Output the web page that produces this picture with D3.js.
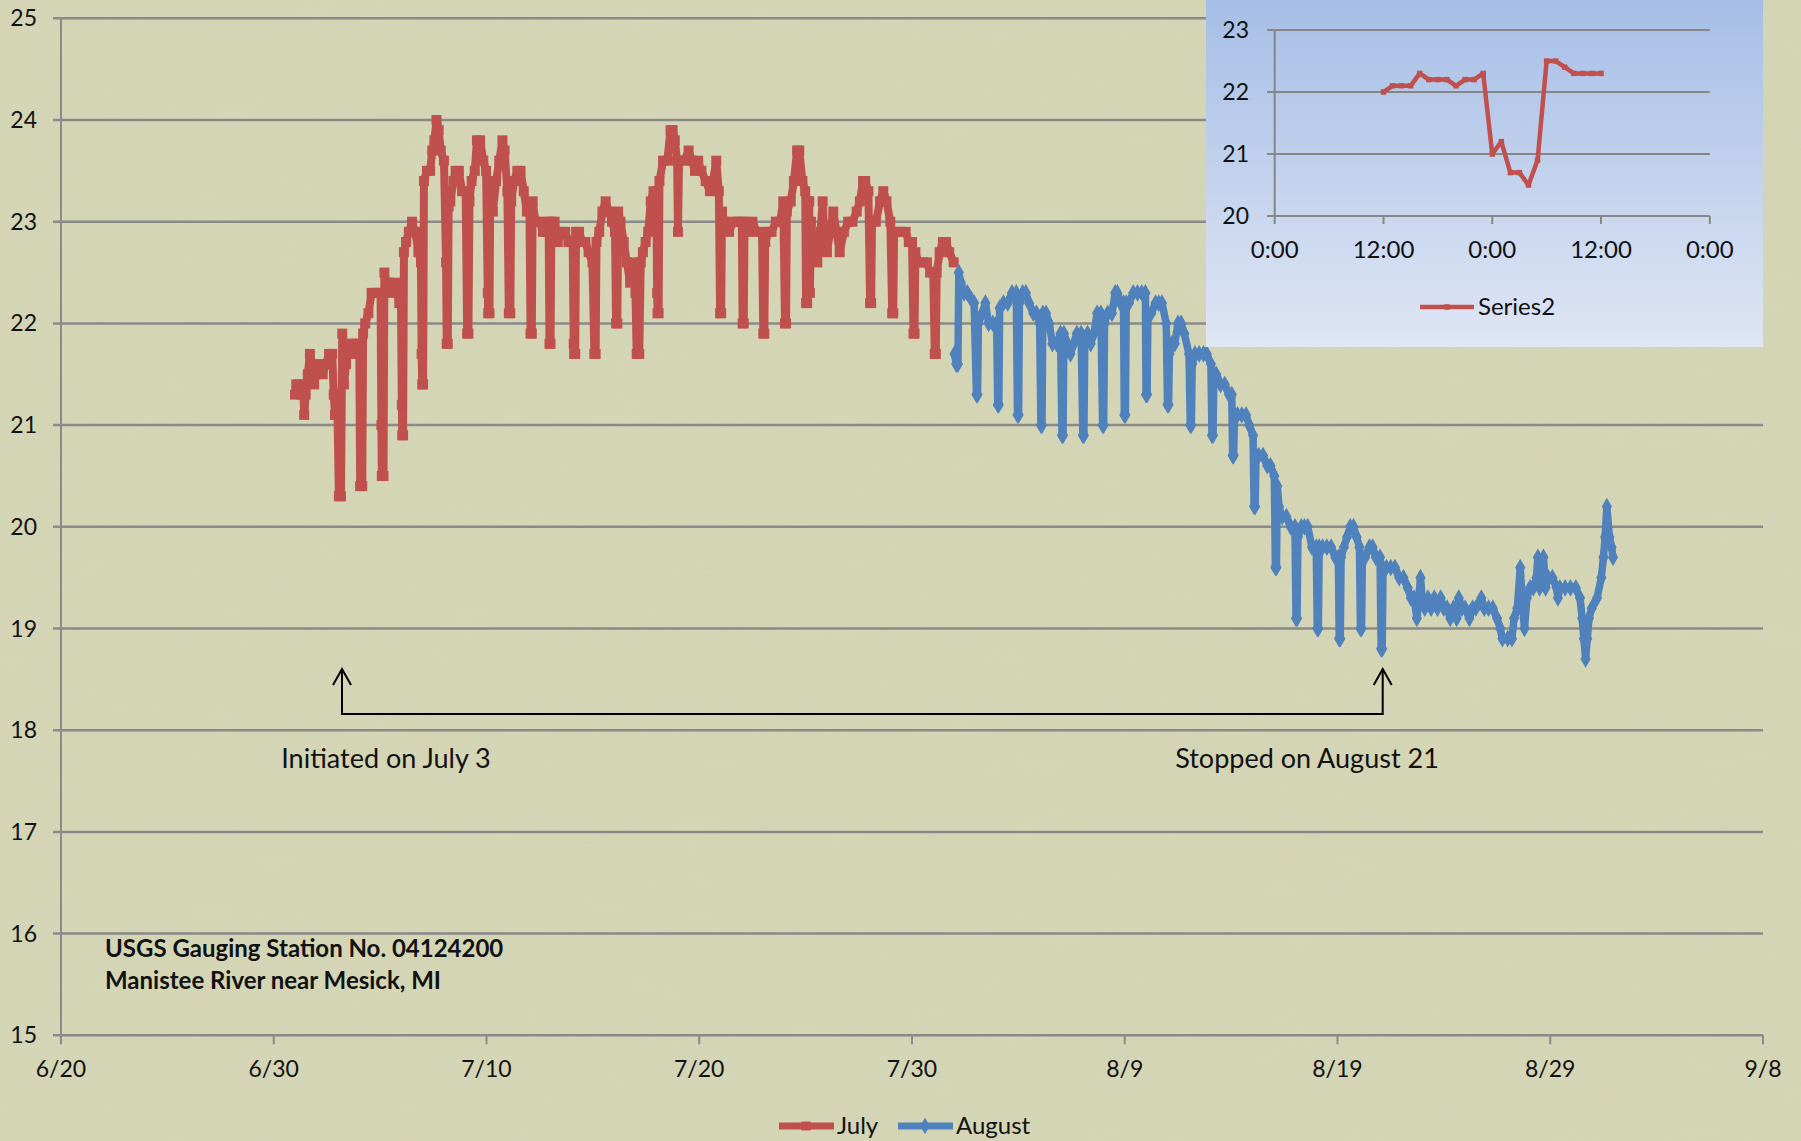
<!DOCTYPE html>
<html>
<head>
<meta charset="utf-8">
<script src="https://cdn.jsdelivr.net/npm/d3@7"></script>
<style>
  html, body { margin: 0; padding: 0; background: #d5d6b6; }
  svg { display: block; font-family: Lato, "Open Sans", sans-serif; }
</style>
</head>
<body>
<div id="chart"></div>
<script>
// water temperature readings, [day of month, deg C]
var julyReadings = [
  [1.00,21.3],[1.06,21.4],[1.18,21.4],[1.30,21.3],[1.38,21.4],[1.43,21.1],[1.50,21.3],[1.60,21.5],[1.70,21.7],[1.80,21.6],[1.90,21.4],
  [2.00,21.5],[2.15,21.6],[2.30,21.5],[2.45,21.6],[2.60,21.7],[2.75,21.7],[2.82,21.3],[2.88,21.1],[2.98,21.3],
  [3.06,20.3],[3.16,20.3],[3.22,21.9],[3.30,21.4],[3.40,21.6],[3.50,21.8],[3.65,21.8],[3.80,21.7],[3.92,21.8],[4.02,21.8],
  [4.06,20.4],[4.16,20.4],[4.20,21.9],[4.30,22.0],[4.45,22.1],[4.60,22.3],[4.75,22.3],[4.90,22.3],[5.02,22.3],
  [5.06,21.0],[5.08,20.5],[5.16,20.5],[5.20,22.5],[5.30,22.4],[5.45,22.4],[5.60,22.3],[5.75,22.4],[5.90,22.2],[5.98,22.2],
  [6.02,21.2],[6.04,20.9],[6.08,20.9],[6.12,22.7],[6.22,22.8],[6.35,22.9],[6.50,23.0],[6.65,22.9],[6.80,22.7],[6.92,22.6],
  [6.95,21.7],[6.98,21.4],[7.02,21.4],[7.06,23.4],[7.20,23.5],[7.35,23.5],[7.45,23.7],[7.55,23.8],[7.65,24.0],[7.75,23.9],[7.85,23.7],[8.00,23.6],
  [8.10,22.6],[8.13,21.8],[8.18,21.8],[8.22,23.15],[8.30,23.2],[8.45,23.4],[8.55,23.5],[8.70,23.5],[8.85,23.3],[9.02,23.3],
  [9.09,21.9],[9.15,21.9],[9.20,23.2],[9.30,23.4],[9.45,23.5],[9.55,23.8],[9.70,23.8],[9.85,23.6],[9.98,23.5],
  [10.06,22.3],[10.08,22.1],[10.14,22.1],[10.18,23.4],[10.30,23.1],[10.45,23.4],[10.60,23.6],[10.75,23.8],[10.85,23.7],[10.98,23.3],
  [11.05,22.1],[11.12,22.1],[11.16,23.2],[11.30,23.4],[11.45,23.5],[11.60,23.5],[11.75,23.3],[11.90,23.1],[12.02,23.1],
  [12.07,21.9],[12.13,21.9],[12.17,23.2],[12.30,23.0],[12.50,23.0],[12.65,22.9],[12.80,22.9],[12.92,23.0],
  [12.96,21.8],[13.01,21.8],[13.05,23.0],[13.20,23.0],[13.35,22.8],[13.50,22.9],[13.70,22.9],[13.85,22.8],[14.05,22.8],
  [14.10,21.8],[14.12,21.7],[14.17,21.7],[14.21,22.9],[14.35,22.9],[14.50,22.8],[14.65,22.8],[14.80,22.7],[14.98,22.6],
  [15.07,21.7],[15.13,21.7],[15.17,22.8],[15.30,22.9],[15.45,23.1],[15.60,23.2],[15.75,23.1],[15.90,23.0],[16.04,22.9],
  [16.09,22.0],[16.15,22.0],[16.19,23.1],[16.30,23.0],[16.45,22.8],[16.60,22.6],[16.75,22.4],[16.90,22.6],[17.00,22.3],
  [17.06,21.7],[17.18,21.7],[17.25,22.6],[17.35,22.7],[17.48,22.8],[17.60,22.9],[17.72,23.2],[17.85,23.3],[17.98,23.3],
  [18.02,22.3],[18.04,22.1],[18.09,22.1],[18.13,23.4],[18.30,23.6],[18.50,23.6],[18.65,23.9],[18.75,23.9],[18.85,23.8],[18.96,23.6],
  [19.00,22.9],[19.05,23.6],[19.30,23.6],[19.50,23.7],[19.65,23.6],[19.80,23.5],[19.95,23.6],
  [20.10,23.5],[20.30,23.4],[20.50,23.3],[20.65,23.4],[20.80,23.6],[20.92,23.3],
  [20.98,22.1],[21.03,22.1],[21.07,23.1],[21.20,23.0],[21.40,22.9],[21.60,23.0],[21.80,23.0],[22.00,23.0],
  [22.04,22.0],[22.09,22.0],[22.13,23.0],[22.30,22.9],[22.50,23.0],[22.70,22.9],[22.95,22.9],
  [23.01,21.9],[23.06,21.9],[23.10,22.8],[23.25,22.9],[23.40,22.9],[23.60,23.0],[23.80,23.0],[23.95,23.2],
  [24.03,22.0],[24.08,22.0],[24.12,23.1],[24.30,23.2],[24.45,23.4],[24.60,23.7],[24.70,23.7],[24.85,23.4],[24.98,23.3],
  [25.02,22.2],[25.07,22.2],[25.11,23.2],[25.17,23.2],[25.20,22.3],[25.25,23.0],[25.40,22.7],[25.55,22.6],[25.70,22.9],[25.80,23.2],[25.90,22.8],[26.00,22.7],
  [26.15,22.9],[26.30,23.1],[26.45,22.9],[26.60,22.7],[26.80,22.9],[27.00,23.0],
  [27.20,23.0],[27.40,23.1],[27.55,23.2],[27.70,23.4],[27.80,23.4],[27.95,23.3],
  [28.03,22.2],[28.08,22.2],[28.12,23.0],[28.30,23.0],[28.50,23.2],[28.65,23.3],[28.80,23.2],[28.98,23.0],
  [29.07,22.1],[29.12,22.1],[29.16,22.9],[29.30,22.9],[29.50,22.9],[29.70,22.9],[29.85,22.8],[30.00,22.8],
  [30.07,21.9],[30.12,21.9],[30.16,22.7],[30.30,22.6],[30.50,22.6],[30.70,22.6],[30.85,22.5],[31.00,22.5],
  [31.07,21.7],[31.12,21.7],[31.16,22.5],[31.30,22.7],[31.45,22.8],[31.60,22.8],[31.75,22.7],[31.96,22.6]
];

var augustReadings = [
  [1.00,21.7],[1.08,21.6],[1.16,21.6],[1.20,22.5],[1.30,22.4],[1.45,22.3],[1.60,22.3],[1.75,22.25],[1.92,22.2],
  [2.03,21.3],[2.08,21.3],[2.12,22.0],[2.30,22.1],[2.45,22.2],[2.60,22.0],[2.80,22.0],[2.98,22.0],
  [3.03,21.2],[3.08,21.2],[3.12,22.15],[3.30,22.2],[3.50,22.2],[3.70,22.3],[3.90,22.3],
  [3.96,21.1],[4.01,21.1],[4.05,22.2],[4.20,22.3],[4.35,22.3],[4.50,22.2],[4.70,22.1],[4.85,22.1],[5.00,22.0],
  [5.06,21.0],[5.11,21.0],[5.15,22.1],[5.30,22.1],[5.45,22.0],[5.60,21.8],[5.80,21.8],[5.98,21.9],
  [6.05,20.9],[6.10,20.9],[6.14,21.9],[6.30,21.8],[6.45,21.7],[6.60,21.8],[6.75,21.9],[6.95,21.9],
  [7.03,20.9],[7.08,20.9],[7.12,21.8],[7.25,21.9],[7.40,21.8],[7.55,21.9],[7.70,22.1],[7.88,22.1],
  [7.96,21.0],[8.01,21.0],[8.05,22.0],[8.20,22.1],[8.40,22.1],[8.55,22.3],[8.65,22.3],[8.80,22.2],[8.94,22.2],
  [8.98,21.1],[9.03,21.1],[9.07,22.2],[9.20,22.2],[9.40,22.3],[9.60,22.3],[9.80,22.3],[9.97,22.3],
  [10.00,21.3],[10.05,21.3],[10.09,22.1],[10.25,22.1],[10.45,22.2],[10.60,22.2],[10.75,22.2],[10.95,22.0],
  [11.01,21.2],[11.06,21.2],[11.10,21.7],[11.20,21.8],[11.35,21.8],[11.50,22.0],[11.65,22.0],[11.80,21.9],[12.02,21.7],
  [12.08,21.0],[12.13,21.0],[12.17,21.6],[12.30,21.7],[12.50,21.7],[12.70,21.7],[12.85,21.7],[13.05,21.6],
  [13.10,20.9],[13.15,20.9],[13.19,21.5],[13.30,21.5],[13.50,21.4],[13.70,21.4],[13.90,21.3],[14.03,21.3],
  [14.07,20.7],[14.12,20.7],[14.16,21.1],[14.30,21.1],[14.50,21.1],[14.70,21.1],[14.85,21.0],[15.03,20.9],
  [15.08,20.2],[15.13,20.2],[15.17,20.7],[15.30,20.7],[15.50,20.7],[15.70,20.6],[15.85,20.6],[16.03,20.5],
  [16.08,19.6],[16.13,19.6],[16.17,20.4],[16.25,20.2],[16.40,20.1],[16.60,20.1],[16.80,20.0],[17.00,20.0],
  [17.05,19.1],[17.10,19.1],[17.14,19.9],[17.30,20.0],[17.45,20.0],[17.60,20.0],[17.80,19.8],[18.00,19.8],
  [18.05,19.0],[18.10,19.0],[18.14,19.8],[18.30,19.8],[18.50,19.8],[18.70,19.8],[18.90,19.7],[19.04,19.7],
  [19.08,18.9],[19.13,18.9],[19.17,19.7],[19.30,19.8],[19.45,19.9],[19.60,20.0],[19.75,20.0],[19.90,19.9],[20.03,19.8],
  [20.08,19.0],[20.13,19.0],[20.17,19.7],[20.30,19.7],[20.50,19.8],[20.65,19.8],[20.80,19.7],[21.00,19.7],
  [21.05,18.8],[21.10,18.8],[21.14,19.6],[21.30,19.6],[21.50,19.6],[21.70,19.6],[21.90,19.5],[22.10,19.5],
  [22.30,19.4],[22.45,19.3],[22.60,19.3],[22.73,19.1],[22.82,19.3],[22.90,19.5],[22.98,19.3],
  [23.10,19.2],[23.25,19.3],[23.40,19.2],[23.55,19.3],[23.70,19.2],[23.85,19.3],
  [24.00,19.2],[24.15,19.2],[24.30,19.1],[24.45,19.2],[24.60,19.1],[24.70,19.3],[24.85,19.2],
  [25.00,19.2],[25.20,19.1],[25.35,19.2],[25.50,19.2],[25.76,19.3],[25.90,19.2],
  [26.10,19.2],[26.30,19.2],[26.50,19.1],[26.65,19.0],[26.75,18.9],[27.00,18.9],[27.20,18.9],
  [27.30,19.1],[27.45,19.2],[27.59,19.6],[27.70,19.2],[27.79,19.0],[27.90,19.3],
  [28.05,19.4],[28.20,19.4],[28.35,19.5],[28.42,19.7],[28.50,19.4],[28.60,19.5],[28.68,19.7],[28.78,19.4],[28.90,19.5],
  [29.10,19.5],[29.30,19.4],[29.36,19.3],[29.45,19.4],[29.70,19.4],[29.95,19.4],
  [30.20,19.4],[30.40,19.3],[30.50,19.1],[30.58,18.9],[30.66,18.7],[30.74,18.9],[30.82,19.1],[30.95,19.2],
  [31.20,19.3],[31.40,19.5],[31.50,19.7],[31.58,19.9],[31.66,20.2],[31.78,19.9],[31.88,19.8],[31.95,19.7]
];

// inset: one day of hourly readings
var insetHours = [12,13,14,15,16,17,18,19,20,21,22,23,24,25,26,27,28,29,30,31,32,33,34,35,36];
var insetTemps = [22.0,22.1,22.1,22.1,22.3,22.2,22.2,22.2,22.1,22.2,22.2,22.3,21.0,21.2,20.7,20.7,20.5,20.9,22.5,22.5,22.4,22.3,22.3,22.3,22.3];

var yTicks = [15,16,17,18,19,20,21,22,23,24,25];
var xTickDays = ["2012-06-20","2012-06-30","2012-07-10","2012-07-20","2012-07-30","2012-08-09","2012-08-19","2012-08-29","2012-09-08"];
var insetYTicks = [20,21,22,23];
var insetXHours = [0,12,24,36,48];
var insetXLabels = ["0:00","12:00","0:00","12:00","0:00"];

var markers = [
  {date: "2012-07-03T05:00Z", label: "Initiated on July 3"},
  {date: "2012-08-21T03:00Z", label: "Stopped on August 21"}
];

var RED = "#c0504d", BLUE = "#4f81bd", GRID = "#8a8a8a";
var W = 1801, H = 1141;

function dayOf(month, d) {
  return new Date(Date.UTC(2012, month, 1) + (d - 1) * 864e5);
}

var svg = d3.select("#chart").append("svg")
  .attr("width", W).attr("height", H);

var defs = svg.append("defs");
var grain = defs.append("filter").attr("id", "grain")
  .attr("x", 0).attr("y", 0).attr("width", "100%").attr("height", "100%");
grain.append("feTurbulence").attr("type", "fractalNoise")
  .attr("baseFrequency", "0.012 0.04").attr("numOctaves", 3).attr("seed", 7);
grain.append("feColorMatrix").attr("type", "matrix")
  .attr("values", "0 0 0 0 0.55  0 0 0 0 0.56  0 0 0 0 0.42  0 0 0 0.35 -0.08");

var grad = defs.append("linearGradient").attr("id", "insetBg")
  .attr("x1", 0).attr("y1", 0).attr("x2", 0).attr("y2", 1);
grad.append("stop").attr("offset", "0%").attr("stop-color", "#a6bee6");
grad.append("stop").attr("offset", "100%").attr("stop-color", "#dfe6f4");

svg.append("rect").attr("width", W).attr("height", H).attr("fill", "#d5d6b6");
svg.append("rect").attr("width", W).attr("height", H).attr("filter", "url(#grain)").attr("opacity", 0.5);

// main scales
var x = d3.scaleUtc()
  .domain([new Date(xTickDays[0]), new Date(xTickDays[xTickDays.length - 1])])
  .range([61, 1763]);
var y = d3.scaleLinear().domain([15, 25]).range([1035.3, 18.3]);

// grid
svg.append("g").selectAll("line").data(yTicks).join("line")
  .attr("x1", 53).attr("x2", 1763)
  .attr("y1", function (d) { return y(d); }).attr("y2", function (d) { return y(d); })
  .attr("stroke", GRID).attr("stroke-width", 2.5);

svg.append("line").attr("x1", 61).attr("x2", 61).attr("y1", y(25)).attr("y2", y(15))
  .attr("stroke", GRID).attr("stroke-width", 2);

svg.append("g").selectAll("line").data(xTickDays).join("line")
  .attr("x1", function (d) { return x(new Date(d)); }).attr("x2", function (d) { return x(new Date(d)); })
  .attr("y1", y(15)).attr("y2", y(15) + 9)
  .attr("stroke", GRID).attr("stroke-width", 2);

svg.append("g").selectAll("text").data(yTicks).join("text")
  .attr("x", 37).attr("y", function (d) { return y(d); })
  .attr("dy", "0.35em").attr("text-anchor", "end")
  .attr("font-size", 23).attr("fill", "#111")
  .text(function (d) { return d; });

var fmt = d3.utcFormat("%-m/%-d");
svg.append("g").selectAll("text").data(xTickDays).join("text")
  .attr("x", function (d) { return x(new Date(d)); }).attr("y", 1069)
  .attr("dy", "0.35em").attr("text-anchor", "middle")
  .attr("font-size", 23).attr("fill", "#111")
  .text(function (d) { return fmt(new Date(d)); });

// series
function drawSeries(readings, month, color, shape, width, msize) {
  var pts = readings.map(function (r) { return {date: dayOf(month, r[0]), v: r[1]}; });
  var line = d3.line()
    .x(function (d) { return x(d.date); })
    .y(function (d) { return y(d.v); });
  var g = svg.append("g");
  g.append("path").datum(pts).attr("d", line)
    .attr("fill", "none").attr("stroke", color)
    .attr("stroke-width", width).attr("stroke-linejoin", "round");
  var sym = d3.symbol().type(shape).size(msize);
  g.selectAll("path.m").data(pts).join("path").attr("class", "m")
    .attr("transform", function (d) { return "translate(" + x(d.date) + "," + y(d.v) + ")"; })
    .attr("d", sym).attr("fill", color);
}
drawSeries(julyReadings, 6, RED, d3.symbolSquare, 8, 100);
drawSeries(augustReadings, 7, BLUE, d3.symbolDiamond, 7.5, 90);

// start / stop annotation
var ay = 714, tipY = 669;
var ax = markers.map(function (m) { return x(new Date(m.date)); });
var ann = svg.append("g").attr("stroke", "#000").attr("stroke-width", 2).attr("fill", "none");
ann.append("path").attr("d", "M" + ax[0] + "," + tipY + "V" + ay + "H" + ax[1] + "V" + tipY);
ax.forEach(function (px) {
  ann.append("path").attr("d", "M" + (px - 9) + "," + (tipY + 16) + "L" + px + "," + tipY + "L" + (px + 9) + "," + (tipY + 16));
});
svg.append("g").selectAll("text").data(markers).join("text")
  .attr("x", function (d, i) { return i === 0 ? 386 : 1307; })
  .attr("y", 759).attr("dy", "0.35em").attr("text-anchor", "middle")
  .attr("font-size", 27).attr("fill", "#111")
  .text(function (d) { return d.label; });

svg.append("text").attr("x", 105).attr("y", 949).attr("dy", "0.35em")
  .attr("font-size", 24).attr("font-weight", "bold").attr("fill", "#111")
  .text("USGS Gauging Station No. 04124200");
svg.append("text").attr("x", 105).attr("y", 981).attr("dy", "0.35em")
  .attr("font-size", 24).attr("font-weight", "bold").attr("fill", "#111")
  .text("Manistee River near Mesick, MI");

// legend
var legend = [
  {name: "July", color: RED, shape: d3.symbolSquare, x0: 779},
  {name: "August", color: BLUE, shape: d3.symbolDiamond, x0: 898}
];
var lg = svg.append("g").selectAll("g").data(legend).join("g")
  .attr("transform", function (d) { return "translate(" + d.x0 + ",1126)"; });
lg.append("line").attr("x1", 0).attr("x2", 55)
  .attr("stroke", function (d) { return d.color; }).attr("stroke-width", 7);
lg.append("path").attr("transform", "translate(27,0)")
  .attr("d", function (d) { return d3.symbol().type(d.shape).size(80)(); })
  .attr("fill", function (d) { return d.color; });
lg.append("text").attr("x", 58).attr("dy", "0.35em")
  .attr("font-size", 24).attr("fill", "#111")
  .text(function (d) { return d.name; });

// inset chart
var inset = svg.append("g");
inset.append("rect").attr("x", 1206).attr("y", 0).attr("width", 557).attr("height", 347)
  .attr("fill", "url(#insetBg)");
var ix = d3.scaleLinear().domain([0, 48]).range([1274.7, 1709.8]);
var iy = d3.scaleLinear().domain([20, 23]).range([216, 30]);

inset.append("g").selectAll("line").data(insetYTicks).join("line")
  .attr("x1", 1267).attr("x2", 1709.8)
  .attr("y1", function (d) { return iy(d); }).attr("y2", function (d) { return iy(d); })
  .attr("stroke", "#868686").attr("stroke-width", 2);
inset.append("line").attr("x1", ix(0)).attr("x2", ix(0)).attr("y1", iy(23)).attr("y2", iy(20))
  .attr("stroke", "#868686").attr("stroke-width", 2);
inset.append("g").selectAll("line").data(insetXHours).join("line")
  .attr("x1", function (d) { return ix(d); }).attr("x2", function (d) { return ix(d); })
  .attr("y1", iy(20)).attr("y2", iy(20) + 8)
  .attr("stroke", "#868686").attr("stroke-width", 2);
inset.append("g").selectAll("text").data(insetYTicks).join("text")
  .attr("x", 1249).attr("y", function (d) { return iy(d); })
  .attr("dy", "0.35em").attr("text-anchor", "end")
  .attr("font-size", 23).attr("fill", "#111")
  .text(function (d) { return d; });
inset.append("g").selectAll("text").data(insetXHours).join("text")
  .attr("x", function (d) { return ix(d); }).attr("y", 250)
  .attr("dy", "0.35em").attr("text-anchor", "middle")
  .attr("font-size", 24).attr("fill", "#111")
  .text(function (d, i) { return insetXLabels[i]; });

var ipts = insetHours.map(function (h, i) { return {h: h, v: insetTemps[i]}; });
inset.append("path").datum(ipts)
  .attr("d", d3.line().x(function (d) { return ix(d.h); }).y(function (d) { return iy(d.v); }))
  .attr("fill", "none").attr("stroke", RED).attr("stroke-width", 4.5).attr("stroke-linejoin", "round");
inset.selectAll("path.im").data(ipts).join("path").attr("class", "im")
  .attr("transform", function (d) { return "translate(" + ix(d.h) + "," + iy(d.v) + ")"; })
  .attr("d", d3.symbol().type(d3.symbolSquare).size(30)).attr("fill", RED);

var il = inset.append("g").attr("transform", "translate(1420,307)");
il.append("line").attr("x1", 0).attr("x2", 54).attr("stroke", RED).attr("stroke-width", 4.5);
il.append("path").attr("transform", "translate(27,0)")
  .attr("d", d3.symbol().type(d3.symbolSquare).size(30)).attr("fill", RED);
il.append("text").attr("x", 58).attr("dy", "0.35em").attr("font-size", 24).attr("fill", "#111")
  .text("Series2");
</script>
</body>
</html>
